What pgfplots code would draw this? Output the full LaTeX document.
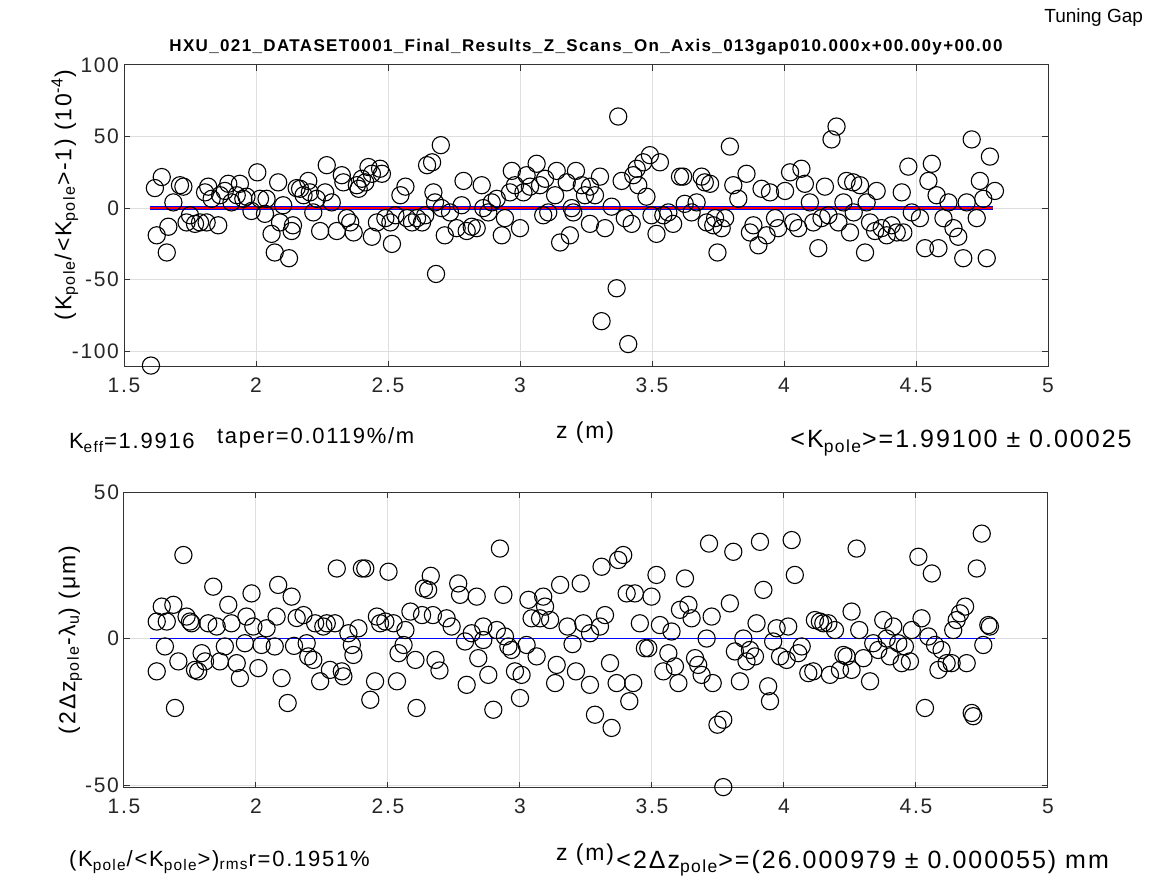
\documentclass[border=0pt]{standalone}
\usepackage{fontspec}
\setmainfont{Liberation Sans}[LetterSpace=8]
\newfontfamily\plainfont{Liberation Sans}
\usepackage{pgfplots}
\pgfplotsset{compat=1.18}
\pgfplotstableread{
x y
1.602 -110
1.617 14
1.624 -19
1.643 21.7
1.662 -31
1.668 -13
1.687 4
1.712 16
1.725 15
1.737 -10
1.75 -5
1.769 -11
1.788 -10
1.807 11
1.813 -10
1.819 15
1.832 6.5
1.857 -12
1.864 9
1.882 12
1.895 17
1.907 4
1.927 9
1.939 17
1.952 6.5
1.964 8
1.983 -2
2.005 25
2.015 6.5
2.034 -4
2.040 6.5
2.059 -18
2.071 -31
2.084 18
2.091 -10
2.103 2
2.125 -35
2.135 -16
2.14 -12
2.154 14
2.167 13.5
2.18 9
2.198 19
2.204 11
2.217 -3
2.23 6.5
2.243 -16
2.262 11
2.268 30
2.287 4
2.306 -16
2.325 23
2.331 18
2.344 -7
2.357 -10
2.37 -17
2.382 16
2.389 13.5
2.401 20.5
2.414 18
2.426 28.7
2.439 24
2.439 -20
2.458 -10
2.47 27.5
2.477 24
2.49 -7
2.509 -10
2.515 -25
2.528 -5
2.547 9
2.566 15
2.572 -7
2.591 -10
2.61 -7
2.629 -10
2.641 -5
2.648 30
2.667 32
2.672 11
2.678 4
2.682 -46
2.70 44
2.703 0
2.715 -19
2.735 -3
2.76 -14
2.779 2
2.786 19
2.798 -16
2.817 -13
2.836 -14
2.855 16
2.861 0
2.88 -3
2.893 4
2.912 6.5
2.931 -19
2.943 -7
2.962 11
2.969 26
2.981 16
3.0 -14
3.013 11
3.025 23
3.038 15
3.063 31
3.076 16
3.088 -5
3.095 20.5
3.107 -3
3.133 9
3.139 26
3.152 -24
3.177 18
3.189 -19
3.196 0
3.202 -3
3.212 26
3.234 16
3.246 9
3.265 15
3.265 -11
3.284 9
3.303 22
3.309 -79
3.322 -14
3.347 1
3.366 -56
3.372 64
3.385 19
3.397 -7
3.41 -95
3.423 -11
3.429 23
3.442 27.5
3.448 16
3.467 32
3.479 8
3.492 37
3.498 -5
3.517 -18
3.53 32
3.543 -5
3.562 -3
3.58 -11
3.606 22
3.618 22
3.624 3
3.65 -3
3.669 4
3.688 22
3.7 18
3.707 -10
3.72 17
3.732 -12
3.739 -7
3.748 -31
3.764 -14
3.777 -7
3.795 43
3.808 16
3.827 6.5
3.858 24
3.871 -17
3.884 -12
3.903 -26
3.915 13.5
3.934 -19
3.947 11
3.966 -7
3.978 -14
4.004 12
4.023 25
4.035 -10
4.054 -14
4.066 27.5
4.079 17
4.098 4
4.111 -10
4.13 -28
4.142 -7
4.155 15
4.168 -5
4.18 48
4.199 57
4.206 -10
4.225 4
4.237 19
4.25 -17
4.262 18
4.264 -3
4.288 16
4.307 -31
4.313 4
4.326 -10
4.345 -16
4.351 12
4.37 -14
4.389 -19
4.408 -12
4.427 -17
4.446 11
4.452 -17
4.471 29
4.484 -3
4.515 -7
4.534 -28
4.547 19
4.56 31
4.578 9
4.585 -28
4.604 -7
4.623 4
4.642 -14
4.66 -20
4.679 -35
4.692 4
4.711 48
4.73 -7
4.742 19
4.755 6.5
4.768 -35
4.78 36
4.799 12
}\toptable
\pgfplotstableread{
x y
1.624 -11.2
1.624 5.8
1.643 10.9
1.655 -2.7
1.662 5.8
1.687 11.5
1.693 -23.7
1.706 -7.8
1.725 28.5
1.737 7.5
1.75 5.8
1.756 5.2
1.769 -10.7
1.781 -11.2
1.794 -5
1.807 -7.8
1.819 5.2
1.838 17.7
1.851 4.1
1.863 -7.8
1.882 -2.7
1.895 11.5
1.907 5.2
1.927 -8.4
1.939 -13.5
1.958 -1.6
1.964 7.5
1.983 15.4
1.99 4.1
2.009 -10.1
2.021 -2.2
2.04 3.5
2.071 -2.7
2.078 7.5
2.084 18.3
2.097 -13.5
2.12 -22
2.135 14.3
2.144 -2.5
2.154 7
2.18 8
2.192 -1.6
2.198 -6.1
2.217 -7.3
2.224 5.2
2.243 -14.6
2.255 4.1
2.268 5.2
2.28 -10.7
2.299 5.2
2.306 23.9
2.325 -11.2
2.331 -12.9
2.35 1.8
2.363 -2.2
2.369 -5.6
2.388 3.5
2.401 23.9
2.414 23.9
2.433 -20.9
2.451 -14.6
2.458 7.5
2.47 5.2
2.49 5.8
2.502 22.8
2.521 5.2
2.534 -14.6
2.54 -5
2.559 -2.2
2.566 2.9
2.585 9.2
2.604 -7.3
2.608 -23.7
2.629 8
2.636 17.1
2.652 16.6
2.662 21.4
2.67 8
2.68 -7.3
2.695 -10.9
2.722 6.9
2.741 4.1
2.766 18.8
2.773 14.9
2.792 -1
2.798 -15.8
2.817 1.8
2.836 14.3
2.842 -6.7
2.861 4.1
2.861 -0.5
2.88 -12.4
2.899 -24.3
2.912 2.9
2.924 30.7
2.937 14.9
2.943 0.7
2.956 -2.7
2.968 -3.9
2.981 -11.2
3.0 -20.3
3.006 -12.4
3.025 -2.2
3.032 13.2
3.044 6.9
3.063 -6.1
3.076 6.9
3.088 14.3
3.095 10.9
3.114 6.3
3.133 -15.2
3.139 -9
3.152 18.3
3.18 4.1
3.199 -1.9
3.212 -11.2
3.23 18.8
3.24 5.2
3.265 -15.8
3.265 1.8
3.284 -26
3.303 4.1
3.309 24.5
3.322 8
3.341 -8.4
3.347 -30.5
3.366 -15.2
3.372 26.8
3.391 28.5
3.404 15.4
3.414 -21.4
3.429 -15.2
3.435 15.4
3.454 5.2
3.473 -3.3
3.486 -3.3
3.498 14.3
3.517 21.7
3.53 4.6
3.543 -11.2
3.562 -5
3.574 2.4
3.587 -9.5
3.6 -15.2
3.606 9.8
3.625 20.5
3.638 11.5
3.65 6.9
3.663 -6.7
3.675 -9
3.688 -12.4
3.707 0
3.716 32.4
3.726 7.5
3.73 -15.2
3.748 -29.4
3.77 -27.7
3.77 -50.7
3.795 12
3.808 29.6
3.814 -4.4
3.833 -14.6
3.846 0
3.858 -7.8
3.871 -3.9
3.89 -6.1
3.896 5.2
3.909 33
3.922 16.6
3.94 -16.3
3.947 -21.4
3.959 -1
3.972 3.5
3.985 -6.1
4.01 -7.3
4.016 4.1
4.029 33.6
4.041 21.7
4.054 -5
4.067 -2.7
4.092 -11.8
4.111 -11.2
4.117 6.3
4.136 5.8
4.149 5.2
4.168 5.2
4.174 -12.4
4.193 2.9
4.212 -10.7
4.225 -5.6
4.237 -6.1
4.256 9.2
4.256 -10.7
4.275 30.7
4.285 2.9
4.301 -6.7
4.326 -14.6
4.338 -1.6
4.357 -3.9
4.376 6.3
4.389 0
4.401 -6.1
4.414 4.1
4.433 -1.6
4.446 -8.4
4.458 -2.7
4.477 -7.8
4.484 2.9
4.509 27.9
4.521 6.9
4.534 -23.7
4.547 0.7
4.56 22.2
4.572 -2.2
4.585 -10.7
4.597 -3.9
4.616 -8.4
4.635 -8.4
4.641 2.9
4.654 6.3
4.667 8.6
4.686 10.9
4.692 -8.4
4.711 -25.4
4.717 -26.5
4.73 23.9
4.749 35.8
4.755 -2.2
4.774 4.6
4.78 4.1
}\bottable
\pgfplotsset{
  matlab/.style={
    scale only axis, width=462pt,
    xmin=1.5, xmax=5, xtick={1.5,2,2.5,3,3.5,4,4.5,5},
    grid=major, major grid style={color=black!13, line width=0.5pt},
    axis line style={black!80, line width=0.5pt},
    tick align=inside, major tick length=3pt,
    tick style={black!80, line width=0.5pt},
    ticklabel style={font=\fontsize{10.5}{12}\selectfont, text=black!85},
    /pgf/number format/assume math mode=true,
    xticklabel style={yshift=-2pt},
    yticklabel style={xshift=1pt},
    clip=false,
  },
  circ/.style={only marks, mark=o, mark size=4.3pt, mark options={line width=0.55pt, black}},
}
\begin{document}
\begin{tikzpicture}[x=1pt,y=1pt]
\path[use as bounding box] (0,0) rectangle (579,447);
\begin{axis}[matlab, height=151pt, at={(62pt,263.5pt)}, anchor=south west,
  ymin=-111, ymax=100, ytick={-100,-50,0,50,100},
  every axis y label/.style={at={(axis description cs:-0.064,0.57)}, rotate=90, anchor=center, font=\fontsize{11.5}{13}\selectfont},
  ylabel={(K\textsubscript{pole}/<K\textsubscript{pole}>-1) (10\textsuperscript{-4})}]
\addplot[circ] table[x=x,y=y] {\toptable};
\addplot[blue, line width=2.2pt] coordinates {(1.6,0) (4.79,0)};
\addplot[red, line width=0.9pt] coordinates {(1.6,0) (4.79,0)};
\end{axis}
\begin{axis}[matlab, height=148pt, at={(62pt,53pt)}, anchor=south west,
  ymin=-51, ymax=50, ytick={-50,0,50},
  every axis y label/.style={at={(axis description cs:-0.058,0.5)}, rotate=90, anchor=center, font=\fontsize{11.5}{13}\selectfont},
  ylabel={(2Δz\textsubscript{pole}-λ\textsubscript{u}) (μm)}]
\addplot[circ] table[x=x,y=y] {\bottable};
\addplot[blue, line width=0.7pt] coordinates {(1.6,0) (4.8,0)};
\end{axis}
\node[anchor=east, font=\plainfont\fontsize{9.5}{11}\selectfont] at (575,438) {Tuning Gap};
\node[font=\fontsize{8.5}{10}\selectfont\bfseries] at (293,423.5) {HXU\_021\_DATASET0001\_Final\_Results\_Z\_Scans\_On\_Axis\_013gap010.000x+00.00y+00.00};
\node[font=\fontsize{11.5}{13}\selectfont] at (292.5,230.5) {z (m)};
\node[anchor=west, font=\fontsize{11}{13}\selectfont] at (31,225.5) {K\textsubscript{eff}=1.9916};
\node[anchor=west, font=\fontsize{11}{13}\selectfont] at (105,228) {taper=0.0119\%/m};
\node[anchor=east, font=\fontsize{12.5}{14}\selectfont, inner sep=0pt] at (566,225.5) {<K\textsubscript{pole}>=1.99100 ± 0.00025};
\node[font=\fontsize{11.5}{13}\selectfont] at (292.5,19.5) {z (m)};
\node[anchor=west, font=\fontsize{11}{13}\selectfont] at (31,16) {(K\textsubscript{pole}/<K\textsubscript{pole}>)\textsubscript{rms}r=0.1951\%};
\node[anchor=west, font=\fontsize{12.5}{14}\selectfont, inner sep=0pt] at (308,15.5) {<2Δz\textsubscript{pole}>=(26.000979 ± 0.000055) mm};
\end{tikzpicture}
\end{document}
